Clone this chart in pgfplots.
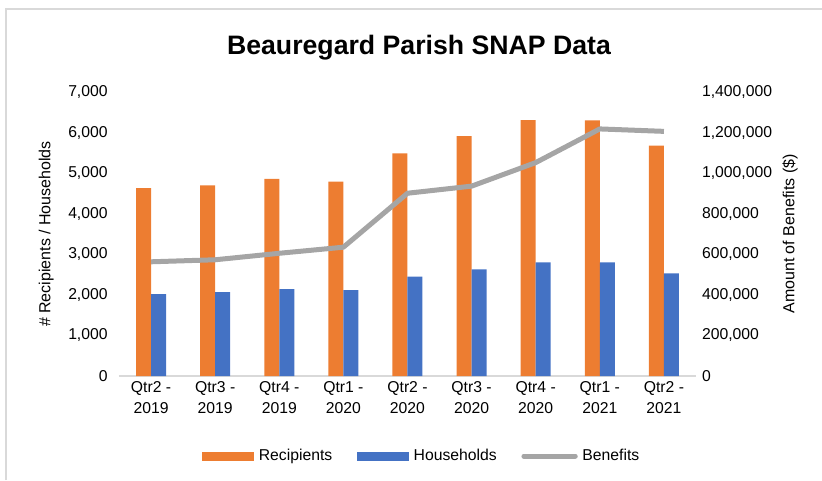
\documentclass[border=0pt]{standalone}
\usepackage{pgfplots}
\pgfplotsset{compat=1.18}
\usepackage{fontspec}
\setmainfont{Liberation Sans}

\definecolor{recip}{HTML}{ED7D31}
\definecolor{house}{HTML}{4472C4}
\definecolor{benef}{HTML}{A5A5A5}
\definecolor{frame}{HTML}{D9D9D9}

\pgfplotsset{
  snapaxis/.style={
    scale only axis,
    width=432.75pt, height=213pt,
    at={(89.25pt,-282pt)}, anchor=south west,
    xmin=-0.5, xmax=8.5,
    major tick length=0pt,
    scaled y ticks=false,
    tick label style={font=\fontsize{11.8}{13}\selectfont},
    label style={font=\fontsize{12}{13}\selectfont},
    /pgf/number format/.cd, fixed, precision=0, 1000 sep={,}, assume math mode=true,
  },
}

\begin{document}
\begin{tikzpicture}
\useasboundingbox (0,0) rectangle (616.5pt,-360pt);
\draw[frame, line width=1pt] (4.5pt,-360pt) -- (4.5pt,-6.75pt) -- (616.5pt,-6.75pt);
\node[font=\fontsize{20}{23}\selectfont\bfseries] at (314.25pt,-35.5pt) {Beauregard Parish SNAP Data};

\begin{axis}[snapaxis,
    ybar=0pt, bar width=11.25pt,
    ymin=0, ymax=7000, ytick distance=1000,
    axis x line*=bottom, axis y line*=left,
    x axis line style={draw=frame, line width=1.2pt},
    y axis line style={draw=none},
    xtick=data,
    xticklabels={{Qtr2 -\\2019},{Qtr3 -\\2019},{Qtr4 -\\2019},{Qtr1 -\\2020},{Qtr2 -\\2020},{Qtr3 -\\2020},{Qtr4 -\\2020},{Qtr1 -\\2021},{Qtr2 -\\2021}},
    xticklabel style={align=center, font=\fontsize{11.8}{15.8}\selectfont, yshift=-0.5pt},
    yticklabel style={xshift=-5pt},
    ylabel={\# Recipients / Households},
    ylabel style={yshift=4pt},
    legend columns=3,
    legend style={draw=none, at={(0.527,-0.282)}, anchor=center,
      font=\fontsize{11.8}{13}\selectfont,
      nodes={inner xsep=3.5pt},
      /tikz/every even column/.append style={column sep=15pt}},
    legend image code/.code={\fill[#1] (0pt,-3.4pt) rectangle (39pt,3.4pt);},
  ]
\addplot[fill=recip, draw=none] coordinates {
  (0,4630) (1,4700) (2,4860) (3,4790) (4,5490) (5,5910) (6,6310) (7,6300) (8,5680)};
\addplot[fill=house, draw=none] coordinates {
  (0,2020) (1,2070) (2,2140) (3,2120) (4,2450) (5,2630) (6,2800) (7,2800) (8,2530)};
\addlegendimage{legend image code/.code={\draw[benef, line width=3.75pt, line cap=round] (1.5pt,0pt) -- (40pt,0pt);}}
\legend{Recipients, Households, Benefits}
\end{axis}

\begin{axis}[snapaxis,
    ymin=0, ymax=1400000, ytick distance=200000,
    axis x line=none, axis y line*=right,
    y axis line style={draw=none},
    yticklabel style={xshift=1pt},
    ylabel={Amount of Benefits (\$)},
    ylabel style={yshift=-1pt},
  ]
\addplot[benef, line width=3.75pt, line join=round, mark=none] coordinates {
  (0,563000) (1,573000) (2,605000) (3,635000) (4,901000) (5,936000) (6,1052000) (7,1218000) (8,1206000)};
\end{axis}
\end{tikzpicture}
\end{document}
